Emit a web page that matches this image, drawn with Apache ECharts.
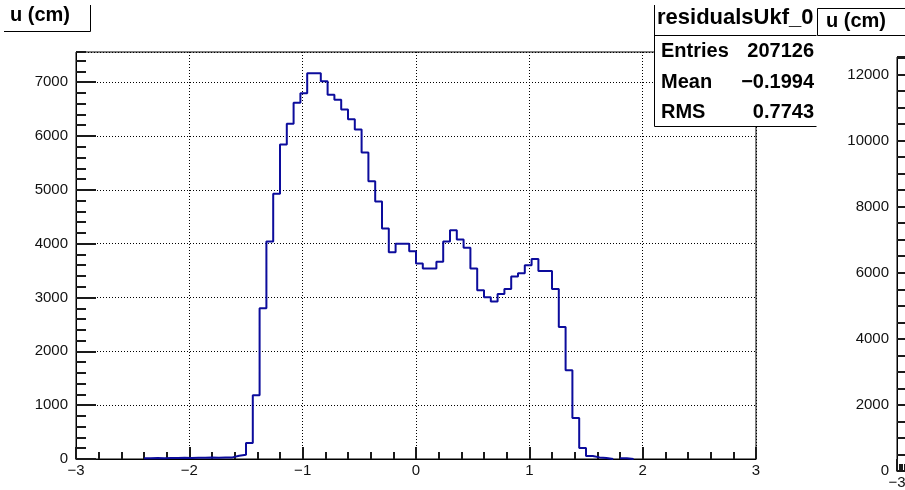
<!DOCTYPE html>
<html>
<head>
<meta charset="utf-8">
<script src="https://cdn.jsdelivr.net/npm/echarts@6/dist/echarts.min.js"></script>
<style>
html,body{margin:0;padding:0;background:#fff;}
#chart{width:905px;height:490px;}
</style>
</head>
<body>
<div id="chart"></div>
<script>
// Histogram definition: 100 bins from -3 to 3 (width 0.06)
const binLow = -3;
const binHigh = 3;
const nBins = 100;
const counts = [
  0,0,0,0,0,0,0,0,0,0,
  14,18,16,20,17,22,19,24,21,26,
  23,28,30,60,80,295,1182,2800,4040,4926,
  5842,6227,6617,6796,7167,7167,7019,6766,6673,6493,
  6312,6121,5693,5160,4785,4280,3840,3996,3996,3859,
  3630,3537,3537,3662,4039,4249,4076,3922,3537,3134,
  3004,2924,3067,3160,3388,3450,3599,3717,3494,3494,
  3160,2454,1647,762,204,55,30,20,0,0,
  15,0,0,0,0,0,0,0,0,0,
  0,0,0,0,0,0,0,0,0,0
];
const histTitle = 'residualsUkf_0';
const axisTitle = 'u (cm)';
const statLabels = ['Entries','Mean','RMS'];
const statValues = ['207126','\u22120.1994','0.7743'];
const leftYMax = 7560;
const rightYMax = 12530;

const binW = (binHigh - binLow) / nBins;
const pts = [];
for (let k = 0; k < nBins; k++) {
  const e = +(binLow + k * binW).toFixed(4);
  if (counts[k] > 0) pts.push([e, counts[k]]);
  else if (k > 0 && counts[k - 1] > 0) pts.push([e, 0]);
  else pts.push([e, null]);
}
if (counts[nBins - 1] > 0) pts.push([binHigh, 0]);

const FONT = '"Liberation Sans", Arial, Helvetica, sans-serif';
const fmtMinus = v => String(v).replace('-', '\u2212');
const TICK = '#1a1a1a';
const TW = 2;

function majorY(grid, max, interval) {
  return {
    type: 'value', gridIndex: grid, min: 0, max: max, interval: interval,
    axisLine: {show: true, onZero: false, lineStyle: {color: '#000', width: 1}},
    axisTick: {show: true, inside: true, length: 20, lineStyle: {color: TICK, width: TW}},
    axisLabel: {show: true, showMaxLabel: false, color: '#111', fontSize: 15, fontFamily: FONT, margin: 8,
      formatter: v => String(v)},
    splitLine: {show: true, lineStyle: {type: [1, 2], color: '#000', width: 1}}
  };
}
function minorY(grid, max, interval) {
  return {
    type: 'value', gridIndex: grid, min: 0, max: max, interval: interval,
    position: 'left',
    axisLine: {show: false, onZero: false},
    axisTick: {show: true, inside: true, length: 10, lineStyle: {color: TICK, width: TW}},
    axisLabel: {show: false},
    splitLine: {show: false}
  };
}
function xAx(grid) {
  return {
    type: 'value', gridIndex: grid, min: binLow, max: binHigh, interval: 1,
    axisLine: {show: true, onZero: false, lineStyle: {color: '#000', width: 1}},
    axisTick: {show: true, inside: true, length: 12, lineStyle: {color: TICK, width: TW}},
    minorTick: {show: true, splitNumber: 5, length: 7, lineStyle: {color: TICK, width: TW}},
    axisLabel: {show: true, color: '#111', fontSize: 15, fontFamily: FONT, margin: 4,
      formatter: v => fmtMinus(v), showMinLabel: true, showMaxLabel: true},
    splitLine: {show: true, lineStyle: {type: [1, 2], color: '#000', width: 1}}
  };
}

const chart = echarts.init(document.getElementById('chart'), null, {renderer: 'canvas'});
const statRowsY = [51, 82, 112];
const graphics = [
  {type: 'text', left: 10, top: 5, z: 100,
   style: {text: axisTitle, font: 'bold 20px ' + FONT, fill: '#000'}},
  {type: 'polyline', z: 100, shape: {points: [[4, 31.5], [90.5, 31.5], [90.5, 5]]},
   style: {stroke: '#000', lineWidth: 1, fill: null}},
  {type: 'rect', z: 100, shape: {x: 654.5, y: 4.5, width: 162, height: 122},
   style: {fill: '#fff', stroke: null}},
  {type: 'polyline', z: 101, shape: {points: [[654.5, 5], [654.5, 126.5], [816.5, 126.5]]},
   style: {stroke: '#000', lineWidth: 1, fill: null}},
  {type: 'line', z: 101, shape: {x1: 654.5, y1: 35.5, x2: 816.5, y2: 35.5},
   style: {stroke: '#000', lineWidth: 1}},
  {type: 'text', z: 102, left: 657, top: 7,
   style: {text: histTitle, font: 'bold 22px ' + FONT, fill: '#000'}},
  {type: 'rect', z: 100, shape: {x: 817.5, y: 8.5, width: 100, height: 27},
   style: {fill: '#fff', stroke: '#000', lineWidth: 1}},
  {type: 'text', z: 102, left: 826, top: 11,
   style: {text: axisTitle, font: 'bold 20px ' + FONT, fill: '#000'}}
];
statLabels.forEach((lab, i) => {
  graphics.push({type: 'text', z: 102, x: 661, y: statRowsY[i],
    style: {text: lab, font: 'bold 20px ' + FONT, fill: '#000', verticalAlign: 'middle'}});
  graphics.push({type: 'text', z: 102, x: 814, y: statRowsY[i],
    style: {text: statValues[i], font: 'bold 20px ' + FONT, fill: '#000', align: 'right', verticalAlign: 'middle'}});
});

chart.setOption({
  animation: false,
  backgroundColor: '#fff',
  grid: [
    {left: 76, top: 52, width: 680, height: 407, show: true, borderColor: '#000', borderWidth: 1},
    {left: 897, top: 57, width: 300, height: 415, show: true, borderColor: '#000', borderWidth: 1}
  ],
  xAxis: [xAx(0), xAx(1)],
  yAxis: [
    majorY(0, leftYMax, 1000), minorY(0, leftYMax, 200),
    majorY(1, rightYMax, 2000), minorY(1, rightYMax, 500)
  ],
  series: [{
    type: 'line', xAxisIndex: 0, yAxisIndex: 0, step: 'end', symbol: 'none',
    connectNulls: false, clip: true,
    lineStyle: {color: '#0c0c9c', width: 2},
    data: pts
  }],
  graphic: graphics
});
</script>
</body>
</html>
